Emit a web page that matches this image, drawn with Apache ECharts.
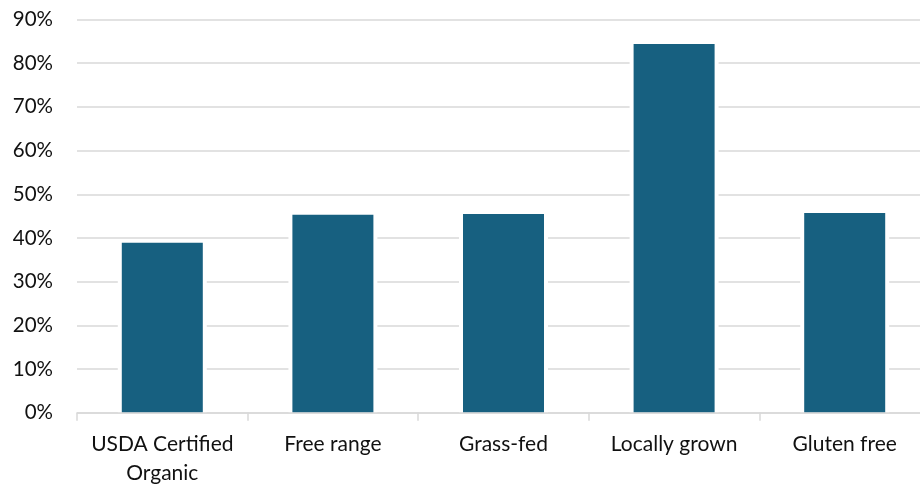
<!DOCTYPE html>
<html><head><meta charset="utf-8">
<script src="https://cdn.jsdelivr.net/npm/echarts@6/dist/echarts.min.js"></script>
<style>html,body{margin:0;padding:0;background:#fff}#c{width:920px;height:489px}</style>
</head><body><div id="c"></div>
<script>
const categories = ['USDA Certified\nOrganic', 'Free range', 'Grass-fed', 'Locally grown', 'Gluten free'];
const values = [38.9, 45.3, 45.5, 84.4, 45.7];
const yTicks = [0, 10, 20, 30, 40, 50, 60, 70, 80, 90];

const FONT = 'Lato';
const chart = echarts.init(document.getElementById('c'), null, {renderer: 'canvas'});
chart.setOption({
  animation: false,
  backgroundColor: '#fff',
  grid: {left: 77, width: 853, top: 19.5, bottom: 76.3, containLabel: false, outerBoundsMode: 'none'},
  xAxis: [{
    type: 'category', data: categories, z: 10,
    axisLine: {lineStyle: {color: '#d9d9d9', width: 1.5}},
    axisTick: {show: true, alignWithLabel: false, length: 8, lineStyle: {color: '#d9d9d9', width: 1.5}},
    axisLabel: {color: '#111', fontFamily: FONT, fontSize: 21, margin: 17, lineHeight: 29, interval: 0}
  }, {
    type: 'category', data: categories, show: false
  }],
  yAxis: {
    type: 'value', min: yTicks[0], max: yTicks[yTicks.length - 1], interval: 10,
    axisLine: {show: false}, axisTick: {show: false},
    splitLine: {lineStyle: {color: '#d9d9d9', width: 1.5}},
    axisLabel: {color: '#111', fontFamily: FONT, fontSize: 20.5, margin: 24, formatter: v => v + '%'}
  },
  series: [{
    type: 'bar', xAxisIndex: 1, data: values, barWidth: 89, z: 1,
    itemStyle: {color: '#ffffff'}, silent: true
  }, {
    type: 'bar', xAxisIndex: 0, data: values, barWidth: 81, z: 2,
    itemStyle: {color: '#176080'}
  }]
});
</script></body></html>
